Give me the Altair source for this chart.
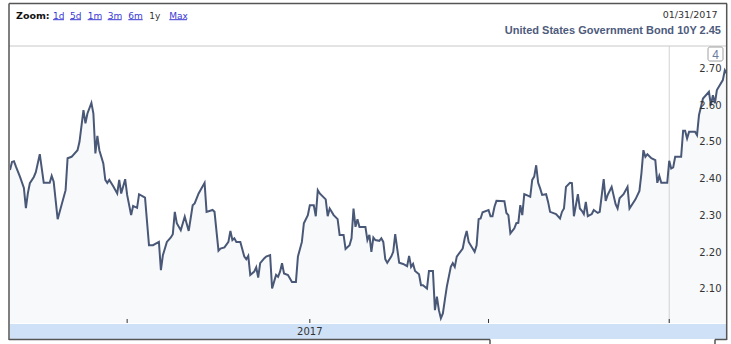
import altair as alt
import pandas as pd

# ---- data ----
# day offsets counted from 2016-10-01, and the yield (%) on that day
days = [-59, -58, -57, -56, -54, -52, -51, -50, -49, -47,
        -46, -44, -42, -39, -38, -37, -35, -31, -30, -28,
        -25, -24, -22, -21, -20, -18, -17, -16, -15, -14,
        -12, -11, -10, -9, -7, -5, -4, -3, -1, 0,
        2, 3, 5, 6, 9, 11, 13, 16, 17, 18,
        20, 22, 23, 24, 25, 27, 29, 31, 33, 34,
        36, 39, 40, 43, 44, 46, 47, 49, 51, 52,
        53, 54, 55, 57, 59, 60, 61, 62, 64, 65,
        66, 67, 69, 70, 72, 73, 75, 76, 77, 78,
        79, 81, 83, 85, 86, 88, 89, 91, 92, 94,
        95, 96, 97, 100, 101, 102, 104, 106, 107, 109,
        110, 112, 113, 114, 115, 116, 117, 120, 121, 122,
        123, 124, 125, 127, 128, 129, 130, 131, 133, 134,
        135, 137, 139, 141, 142, 143, 144, 145, 147, 148,
        149, 151, 152, 154, 155, 156, 157, 158, 159, 160,
        161, 163, 164, 165, 166, 169, 170, 171, 172, 174,
        175, 176, 177, 178, 179, 182, 183, 184, 185, 186,
        190, 191, 192, 193, 195, 196, 197, 198, 199, 200,
        201, 203, 204, 205, 206, 207, 208, 209, 211, 212,
        213, 216, 218, 219, 220, 221, 223, 224, 225, 227,
        228, 229, 230, 231, 232, 234, 235, 237, 238, 240,
        241, 242, 244, 246, 247, 248, 250, 252, 253, 256,
        258, 259, 260, 261, 262, 264, 266, 267, 268, 269,
        272, 273, 274, 275, 276, 279, 280, 281, 282, 283,
        286, 287, 288, 290, 293, 294, 295, 296, 297, 300,
        301, 302]

yields = [2.444, 2.466, 2.468, 2.453, 2.426, 2.395, 2.340, 2.381, 2.408, 2.425,
          2.438, 2.487, 2.409, 2.409, 2.428, 2.412, 2.310, 2.389, 2.476, 2.480,
          2.498, 2.521, 2.607, 2.571, 2.598, 2.627, 2.598, 2.489, 2.537, 2.498,
          2.462, 2.417, 2.409, 2.417, 2.400, 2.380, 2.417, 2.380, 2.419, 2.376,
          2.321, 2.346, 2.341, 2.378, 2.369, 2.239, 2.239, 2.248, 2.171, 2.212,
          2.248, 2.260, 2.269, 2.330, 2.299, 2.280, 2.317, 2.278, 2.348, 2.353,
          2.380, 2.409, 2.330, 2.335, 2.330, 2.224, 2.230, 2.233, 2.248, 2.278,
          2.253, 2.258, 2.248, 2.248, 2.208, 2.201, 2.210, 2.158, 2.167, 2.179,
          2.151, 2.190, 2.203, 2.208, 2.212, 2.121, 2.158, 2.153, 2.167, 2.190,
          2.162, 2.158, 2.139, 2.139, 2.208, 2.248, 2.299, 2.321, 2.348, 2.348,
          2.318, 2.389, 2.380, 2.364, 2.318, 2.339, 2.321, 2.310, 2.267, 2.267,
          2.229, 2.239, 2.258, 2.339, 2.289, 2.310, 2.289, 2.289, 2.253, 2.267,
          2.221, 2.260, 2.253, 2.251, 2.258, 2.248, 2.201, 2.191, 2.208, 2.221,
          2.269, 2.191, 2.188, 2.182, 2.210, 2.180, 2.188, 2.169, 2.160, 2.130,
          2.130, 2.121, 2.169, 2.169, 2.062, 2.099, 2.062, 2.040, 2.053, 2.090,
          2.126, 2.180, 2.190, 2.180, 2.208, 2.230, 2.258, 2.278, 2.248, 2.230,
          2.221, 2.239, 2.310, 2.312, 2.329, 2.335, 2.318, 2.318, 2.344, 2.360,
          2.359, 2.327, 2.321, 2.271, 2.285, 2.299, 2.300, 2.348, 2.321, 2.378,
          2.376, 2.371, 2.417, 2.426, 2.457, 2.409, 2.394, 2.376, 2.378, 2.357,
          2.330, 2.324, 2.312, 2.330, 2.339, 2.398, 2.409, 2.408, 2.318, 2.378,
          2.339, 2.333, 2.324, 2.357, 2.318, 2.324, 2.335, 2.327, 2.330, 2.419,
          2.360, 2.376, 2.398, 2.351, 2.339, 2.367, 2.378, 2.398, 2.339, 2.364,
          2.387, 2.435, 2.498, 2.480, 2.487, 2.476, 2.471, 2.409, 2.428, 2.409,
          2.409, 2.469, 2.448, 2.451, 2.480, 2.480, 2.551, 2.551, 2.530, 2.548,
          2.548, 2.539, 2.594, 2.639, 2.657, 2.621, 2.648, 2.626, 2.662, 2.689,
          2.716, 2.707]

y_tick_values = [2.10, 2.20, 2.30, 2.40, 2.50, 2.60, 2.70]
y_tick_labels = ["2.10", "2.20", "2.30", "2.40", "2.50", "2.60", "2.70"]

x_tick_days = [0, 92, 182, 273]          # Oct 1, Jan 1, Apr 1, Jul 1
x_tick_labels = ["", "2017", "", ""]
plotline_days = [273]

zoom_labels = ["1d", "5d", "1m", "3m", "6m", "1y", "Max"]
zoom_active = "1y"
date_text = "01/31/2017"
title_text = "United States Government Bond 10Y 2.45"
flag_text = "4"

# ---- tables ----
series = pd.DataFrame({"day": days, "yield": yields})
yticks = pd.DataFrame({"v": y_tick_values, "label": y_tick_labels})
xticks = pd.DataFrame({"day": x_tick_days, "label": x_tick_labels})
plines = pd.DataFrame({"day": plotline_days})
one = pd.DataFrame({"k": [0]})

W, H = 717, 277
LINE = "#4a5878"

x_scale = alt.Scale(domain=[-59, 302.1], nice=False, zero=False)
y_scale = alt.Scale(domain=[2.027, 2.782], nice=False, zero=False)

area = alt.Chart(series).mark_area(fill="#4060a0", fillOpacity=0.04, clip=True).encode(
    x=alt.X("day:Q", scale=x_scale, axis=None),
    y=alt.Y("yield:Q", scale=y_scale,
            axis=alt.Axis(values=y_tick_values, grid=True, labels=False, ticks=False,
                          domain=False, title=None, gridColor="#e4e4f0", gridWidth=1)),
    y2=alt.Y2Datum(2.027),
)

line = alt.Chart(series).mark_line(color=LINE, strokeWidth=2, clip=True).encode(
    x=alt.X("day:Q", scale=x_scale, axis=None),
    y=alt.Y("yield:Q", scale=y_scale, axis=None),
)

plotline = alt.Chart(plines).mark_rule(color="#d2d2d2", strokeWidth=1).encode(
    x=alt.X("day:Q", scale=x_scale, axis=None),
    y=alt.value(0), y2=alt.value(H),
)

band = alt.Chart(one).mark_rect(fill="#cfe1f7").encode(
    x=alt.value(0), x2=alt.value(W), y=alt.value(H + 1), y2=alt.value(H + 16)
)

ticks = alt.Chart(xticks).mark_rule(color="#333333", strokeWidth=1).encode(
    x=alt.X("day:Q", scale=x_scale, axis=None),
    y=alt.value(H - 4), y2=alt.value(H),
)

xlabels = alt.Chart(xticks).mark_text(font="DejaVu Sans", fontSize=10, color="#333333",
                                      baseline="middle", align="center").encode(
    x=alt.X("day:Q", scale=x_scale, axis=None),
    y=alt.value(H + 8.5),
    text="label:N",
)

ylabels = alt.Chart(yticks).mark_text(font="DejaVu Sans", fontSize=10, color="#333333",
                                      baseline="middle", align="right", dy=-7).encode(
    x=alt.value(711.5),
    y=alt.Y("v:Q", scale=y_scale, axis=None),
    text="label:N",
)

layers = [area, plotline, band, ticks, xlabels, line, ylabels]

# header separator and frame
def rule(color, width, **enc):
    return alt.Chart(one).mark_rule(color=color, strokeWidth=width).encode(**{k: alt.value(v) for k, v in enc.items()})

layers.append(rule("#c8c8c8", 1, x=-1, x2=717, y=0))
FR = "#555555"
layers.append(rule(FR, 1.5, x=-1, x2=717, y=-42.5))
layers.append(rule(FR, 1.5, x=-1, y=-42.5, y2=294))
layers.append(rule(FR, 1.5, x=716.7, y=-42.5, y2=294))
layers.append(rule(FR, 1.5, x=-1, x2=480, y=293.5))
layers.append(rule(FR, 1.5, x=480, y=293.5, y2=298))
layers.append(rule(FR, 1.5, x=705, y=293.5, y2=298))
layers.append(rule(FR, 1.5, x=705, x2=716.7, y=293.5))

# zoom bar
layers.append(alt.Chart(one).mark_text(text="Zoom:", font="DejaVu Sans", fontSize=9.5, fontWeight="bold",
                                       color="#111111", align="left", baseline="alphabetic").encode(
    x=alt.value(6), y=alt.value(-27.3)))
link_x = [43, 60, 77.7, 97.7, 118.3, 139.3, 159.3]
link_w = [11, 11, 14, 14, 14.4, 10.7, 17.7]
for lab, lx, lw in zip(zoom_labels, link_x, link_w):
    active = lab == zoom_active
    col = "#333333" if active else "#3b3bd4"
    layers.append(alt.Chart(one).mark_text(text=lab, font="DejaVu Sans", fontSize=9, color=col,
                                           align="left", baseline="alphabetic").encode(
        x=alt.value(lx), y=alt.value(-27.3)))
    if not active:
        layers.append(rule(col, 1, x=lx, x2=lx + lw, y=-26.3))

layers.append(alt.Chart(one).mark_text(text=date_text, font="DejaVu Sans", fontSize=9.5, color="#333333",
                                       align="right", baseline="alphabetic").encode(
    x=alt.value(707.5), y=alt.value(-27.7)))
layers.append(alt.Chart(one).mark_text(text=title_text, font="Liberation Sans", fontSize=11, fontWeight="bold",
                                       color="#4d5b7c", align="right", baseline="alphabetic").encode(
    x=alt.value(711), y=alt.value(-11.7)))

# flag box
layers.append(alt.Chart(one).mark_rect(fill="white", stroke="#a0a0a0", strokeWidth=1, cornerRadius=2).encode(
    x=alt.value(698), x2=alt.value(713), y=alt.value(1), y2=alt.value(15)))
layers.append(alt.Chart(one).mark_text(text=flag_text, font="Liberation Sans", fontSize=12, color="#6b7b9f",
                                       align="center", baseline="middle").encode(
    x=alt.value(705.5), y=alt.value(8.5)))

chart = alt.layer(*layers).properties(
    width=W, height=H,
    padding={"left": 10, "top": 46, "right": 4, "bottom": 21},
    autosize=alt.AutoSizeParams(type="none"),
    background="white",
).configure_view(strokeWidth=0)

chart.save("out.html", embed_options={"renderer": "svg", "actions": False})
